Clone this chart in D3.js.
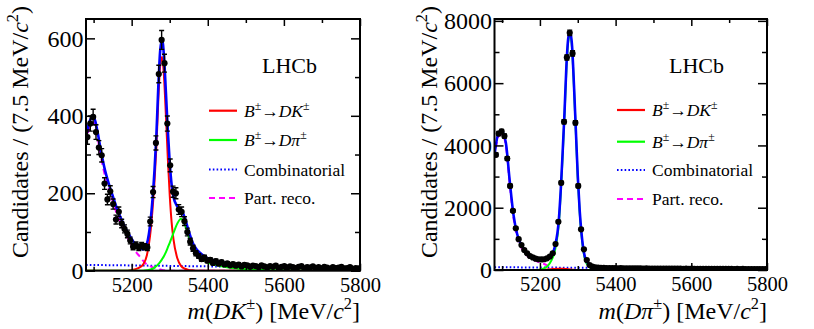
<!DOCTYPE html>
<html>
<head>
<meta http-equiv="Content-Type" content="text/html;charset=utf-8"/>
<title>B to Dh invariant mass fits</title>
<script src="https://d3js.org/d3.v7.min.js"></script>
<style type="text/css">
	body { margin: 0; background: #fff; }
	svg, svg text { font-family: "Liberation Serif", "Times New Roman", Times, serif; fill: #000; }
	.frame { fill: none; stroke: #000; stroke-width: 2; }
	.tick line { stroke: #000; stroke-width: 1.5; }
	.domain { display: none; }
</style>
</head>
<body>
<script type="text/javascript">

//Histogram: 7.5 MeV bins from 5080 to 5800
var binLo = 5080,
	binWidth = 7.5;

//Candidates per bin, B -> D K sample
var dkCounts = [345, 380, 397, 358, 318, 298, 225, 184, 205, 172,
	132, 152, 122, 108, 95, 78, 62, 66, 60, 65,
	62, 60, 127, 203, 330, 508, 596, 536, 380, 272,
	204, 200, 158, 152, 128, 100, 75, 58, 45, 38,
	30, 34, 26, 28, 20, 25, 18, 22, 16, 19,
	14, 17, 13, 16, 11, 15, 14, 10, 13, 12,
	9, 14, 11, 8, 12, 10, 13, 7, 10, 12,
	8, 11, 9, 7, 10, 12, 6, 9, 8, 11,
	7, 9, 6, 10, 8, 5, 9, 7, 8, 10,
	6, 7, 9, 5, 7, 6];

//Candidates per bin, B -> D pi sample
var dpiCounts = [3700, 4380, 4450, 4300, 3580, 2700, 1900, 1340, 990, 800,
	640, 535, 450, 405, 365, 345, 340, 345, 375, 430,
	535, 835, 1550, 2800, 4760, 6825, 7617, 6955, 4728, 2700,
	1305, 663, 321, 160, 107, 88, 76, 70, 66, 62,
	60, 58, 61, 55, 57, 53, 55, 52, 50, 54,
	49, 51, 47, 50, 46, 48, 45, 47, 44, 46,
	43, 45, 42, 44, 41, 43, 40, 42, 39, 41,
	38, 40, 37, 39, 36, 38, 35, 37, 34, 36,
	33, 35, 33, 34, 32, 34, 31, 33, 30, 32,
	30, 31, 29, 31, 28, 30];

//Fit curves at these masses
var fitMass = [5080, 5090, 5100, 5110, 5120, 5130, 5140, 5150, 5160, 5170,
	5180, 5190, 5200, 5210, 5220, 5230, 5240, 5250, 5255, 5260,
	5265, 5270, 5275, 5280, 5285, 5290, 5295, 5300, 5305, 5310,
	5320, 5330, 5340, 5350, 5360, 5370, 5380, 5400, 5420, 5450,
	5500, 5550, 5600, 5700, 5800];

var dkTotal = [345, 387, 398, 360, 305, 259, 224, 194, 164, 139,
	117, 98, 82, 67, 59, 55, 70, 132, 187, 259,
	351, 475, 569, 597, 552, 460, 362, 279, 222, 190,
	166, 158, 135, 102, 73, 56, 46, 32, 26, 20,
	14, 11.4, 9.9, 7.7, 6.5];
var dkDK = [0, 0, 0, 0, 0, 0, 0, 0, 0, 0,
	0, 0, 2, 4, 8, 16, 40, 105, 160, 230,
	320, 440, 530, 552, 500, 400, 290, 195, 125, 80,
	32, 12, 5, 2, 1, 0, 0, 0, 0, 0,
	0, 0, 0, 0, 0];
var dkDpi = [0, 0, 0, 0, 0, 0, 0, 0, 0, 0,
	0, 0, 0, 0, 0, 0, 1, 3, 5, 8,
	12, 17, 23, 30, 38, 48, 60, 72, 85, 98,
	122, 134, 118, 88, 60, 44, 34, 21, 15, 9,
	4, 2, 1, 0, 0];
var dkPartReco = [330, 372, 383, 345, 290, 245, 210, 180, 150, 125,
	103, 84, 66, 50, 38, 26, 16, 11, 9, 8,
	6, 5, 3, 2, 1, 0, 0, 0, 0, 0,
	0, 0, 0, 0, 0, 0, 0, 0, 0, 0,
	0, 0, 0, 0, 0];

var dpiTotal = [3690, 4369, 4448, 4088, 2887, 1787, 1147, 826, 645, 504,
	422, 367, 330, 337, 353, 472, 772, 1618, 2565, 3765,
	5060, 6554, 7449, 7653, 7183, 5928, 4476, 3025, 1923, 1172,
	371, 170, 100, 81, 73, 70, 69, 66, 64, 62,
	58, 54, 50, 43, 35];
var dpiDK = [0, 0, 0, 0, 0, 0, 0, 0, 0, 0,
	0, 0, 5, 8, 15, 25, 35, 40, 40, 40,
	35, 30, 25, 20, 10, 5, 3, 2, 1, 0,
	0, 0, 0, 0, 0, 0, 0, 0, 0, 0,
	0, 0, 0, 0, 0];
var dpiDpi = [0, 0, 0, 0, 0, 0, 0, 0, 0, 0,
	0, 0, 5, 50, 120, 300, 640, 1500, 2450, 3650,
	4950, 6450, 7350, 7560, 7100, 5850, 4400, 2950, 1850, 1100,
	300, 100, 30, 12, 5, 3, 2, 1, 0, 0,
	0, 0, 0, 0, 0];
var dpiPartReco = [3600, 4280, 4360, 4000, 2800, 1700, 1060, 740, 560, 420,
	340, 285, 240, 200, 140, 70, 20, 2, 0, 0,
	0, 0, 0, 0, 0, 0, 0, 0, 0, 0,
	0, 0, 0, 0, 0, 0, 0, 0, 0, 0,
	0, 0, 0, 0, 0];

//Combinatorial background
var combMass = [5080, 5200, 5400, 5600, 5800];
var dkComb = [15, 13.6, 11.2, 8.9, 6.5];
var dpiComb = [90, 80, 66, 50, 35];

//Axis ticks
var xTicks = [5200, 5400, 5600, 5800],
	xMinor = [5100, 5300, 5500, 5700];
var dkYTicks = [0, 200, 400, 600],
	dkYMinor = [100, 300, 500];
var dpiYTicks = [0, 2000, 4000, 6000, 8000],
	dpiYMinor = [1000, 3000, 5000, 7000];

//Legend
var legendItems = [
	{ color: "#ff0000", dash: null, segs: [{t: "B", i: 1}, {t: "\u00b1", s: 1}, {t: "\u2192"}, {t: "DK", i: 1}, {t: "\u00b1", s: 1}] },
	{ color: "#00ff00", dash: null, segs: [{t: "B", i: 1}, {t: "\u00b1", s: 1}, {t: "\u2192"}, {t: "D\u03c0", i: 1}, {t: "\u00b1", s: 1}] },
	{ color: "#0000ff", dash: "1.6,2.2", segs: [{t: "Combinatorial"}] },
	{ color: "#ff00ff", dash: "6,4", segs: [{t: "Part. reco."}] }
];

var serif = "Liberation Serif, Times New Roman, Times, serif";

var w = 814, h = 329;

var svg = d3.select("body").append("svg")
	.attr("width", w)
	.attr("height", h)
	.attr("font-family", serif);

//Write text with italic and superscript pieces
function rich(text, segs, fs) {
	var up = 0;
	segs.forEach(function(s) {
		var ts = text.append("tspan").text(s.t);
		if (s.i) ts.style("font-style", "italic");
		if (s.s) {
			ts.attr("font-size", fs * 0.68).attr("dy", -0.4 * fs);
			up = 1;
		} else if (up) {
			ts.attr("dy", 0.4 * fs);
			up = 0;
		}
	});
}

function panel(o) {
	var g = svg.append("g");

	var x = d3.scaleLinear().domain([5080, 5800]).range([o.x0, o.x1]);
	var y = d3.scaleLinear().domain([0, o.yMax]).range([o.y1, o.y0]);

	var clipId = "clip" + o.id;
	g.append("clipPath").attr("id", clipId)
		.append("rect")
		.attr("x", o.x0).attr("y", o.y0)
		.attr("width", o.x1 - o.x0).attr("height", o.y1 - o.y0);

	var plot = g.append("g").attr("clip-path", "url(#" + clipId + ")");

	var line = d3.line()
		.x(function(d) { return x(d[0]); })
		.y(function(d) { return y(d[1]); })
		.curve(d3.curveMonotoneX);

	function curve(xs, ys, color, width, dash) {
		plot.append("path")
			.datum(d3.zip(xs, ys))
			.attr("d", line)
			.attr("fill", "none")
			.attr("stroke", color)
			.attr("stroke-width", width)
			.attr("stroke-dasharray", dash);
	}

	curve(combMass, o.comb, "#0000ff", 2, "1.6,2.2");
	curve(fitMass, o.part, "#ff00ff", 2, "6,4");
	curve(fitMass, o.dk, "#ff0000", 2, null);
	curve(fitMass, o.dpi, "#00ff00", 2, null);
	curve(fitMass, o.total, "#0000ff", 2.6, null);

	//Data points with Poisson error bars
	var pts = plot.selectAll("g.pt")
		.data(o.counts)
		.enter()
		.append("g")
		.attr("class", "pt")
		.attr("transform", function(d, i) {
			return "translate(" + x(binLo + binWidth * (i + 0.5)) + ",0)";
		});

	pts.append("line")
		.attr("y1", function(d) { return y(d + Math.sqrt(d)); })
		.attr("y2", function(d) { return y(d - Math.sqrt(d)); })
		.attr("stroke", "#000").attr("stroke-width", 1.4);
	pts.append("line")
		.attr("x1", -2.5).attr("x2", 2.5)
		.attr("y1", function(d) { return y(d + Math.sqrt(d)); })
		.attr("y2", function(d) { return y(d + Math.sqrt(d)); })
		.attr("stroke", "#000").attr("stroke-width", 1.4);
	pts.append("line")
		.attr("x1", -2.5).attr("x2", 2.5)
		.attr("y1", function(d) { return y(d - Math.sqrt(d)); })
		.attr("y2", function(d) { return y(d - Math.sqrt(d)); })
		.attr("stroke", "#000").attr("stroke-width", 1.4);
	pts.append("circle")
		.attr("cy", function(d) { return y(d); })
		.attr("r", 3.1)
		.attr("fill", "#000");

	//Ticks on all four sides, pointing inwards
	function ax(gen, tr, vals, len, pad, fs) {
		var a = g.append("g")
			.attr("transform", tr)
			.call(gen.tickValues(vals).tickSizeInner(-len).tickSizeOuter(0)
				.tickPadding(pad)
				.tickFormat(fs ? d3.format("d") : ""));
		a.attr("font-size", fs || 10).attr("font-family", serif);
		return a;
	}
	ax(d3.axisBottom(x), "translate(0," + o.y1 + ")", xTicks, 7, 6.5, 20.5);
	ax(d3.axisBottom(x), "translate(0," + o.y1 + ")", xMinor, 4, 0, 0);
	ax(d3.axisTop(x), "translate(0," + o.y0 + ")", xTicks, 7, 0, 0);
	ax(d3.axisTop(x), "translate(0," + o.y0 + ")", xMinor, 4, 0, 0);
	ax(d3.axisLeft(y), "translate(" + o.x0 + ",0)", o.yTicks, 9, 2.5, 24);
	ax(d3.axisLeft(y), "translate(" + o.x0 + ",0)", o.yMinor, 5, 0, 0);
	ax(d3.axisRight(y), "translate(" + o.x1 + ",0)", o.yTicks, 9, 0, 0);
	ax(d3.axisRight(y), "translate(" + o.x1 + ",0)", o.yMinor, 5, 0, 0);

	g.append("rect")
		.attr("class", "frame")
		.attr("x", o.x0).attr("y", o.y0)
		.attr("width", o.x1 - o.x0).attr("height", o.y1 - o.y0);

	//Axis titles
	var xt = g.append("text")
		.attr("x", o.x1).attr("y", 319)
		.attr("text-anchor", "end")
		.attr("font-size", 24);
	rich(xt, o.xTitle, 24);

	var yt = g.append("text")
		.attr("transform", "translate(" + (o.x0 - 58) + ",6) rotate(-90)")
		.attr("text-anchor", "end")
		.attr("font-size", 24);
	rich(yt, [{t: "Candidates / (7.5 MeV/"}, {t: "c", i: 1}, {t: "2", s: 1}, {t: ")"}], 24);

	g.append("text")
		.attr("x", o.lhcbX).attr("y", 73)
		.attr("font-size", 22)
		.text("LHCb");

	//Legend
	var leg = g.selectAll("g.leg")
		.data(legendItems)
		.enter()
		.append("g")
		.attr("class", "leg")
		.attr("transform", function(d, i) {
			return "translate(" + o.legX + "," + o.legY[i] + ")";
		});
	leg.append("line")
		.attr("x1", 0).attr("x2", 28)
		.attr("stroke", function(d) { return d.color; })
		.attr("stroke-width", 2.2)
		.attr("stroke-dasharray", function(d) { return d.dash; });
	leg.each(function(d) {
		var t = d3.select(this).append("text")
			.attr("x", 35).attr("y", 6)
			.attr("font-size", 17.5);
		rich(t, d.segs, 17.5);
	});
}

panel({
	id: "dk",
	x0: 86, x1: 360, y0: 19, y1: 270.7,
	yMax: 650,
	yTicks: dkYTicks, yMinor: dkYMinor,
	counts: dkCounts,
	total: dkTotal, dk: dkDK, dpi: dkDpi, part: dkPartReco, comb: dkComb,
	xTitle: [{t: "m", i: 1}, {t: "("}, {t: "DK", i: 1}, {t: "\u00b1", s: 1}, {t: ") [MeV/"}, {t: "c", i: 1}, {t: "2", s: 1}, {t: "]"}],
	lhcbX: 262,
	legX: 209, legY: [110.7, 140, 169.5, 198]
});

panel({
	id: "dpi",
	x0: 494.5, x1: 767, y0: 19, y1: 270,
	yMax: 8060,
	yTicks: dpiYTicks, yMinor: dpiYMinor,
	counts: dpiCounts,
	total: dpiTotal, dk: dpiDK, dpi: dpiDpi, part: dpiPartReco, comb: dpiComb,
	xTitle: [{t: "m", i: 1}, {t: "("}, {t: "D\u03c0", i: 1}, {t: "\u00b1", s: 1}, {t: ") [MeV/"}, {t: "c", i: 1}, {t: "2", s: 1}, {t: "]"}],
	lhcbX: 669,
	legX: 617, legY: [110, 141.7, 170, 199]
});

</script>
</body>
</html>
